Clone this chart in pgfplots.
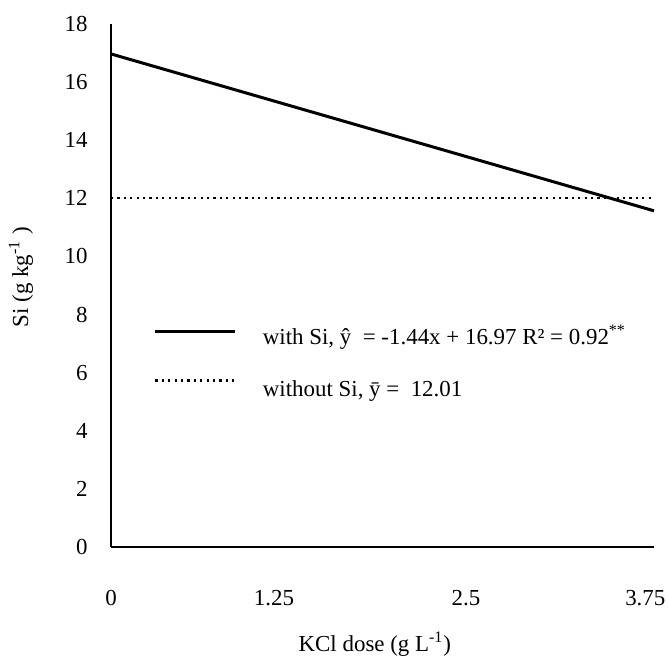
\documentclass[border=0pt]{standalone}
\usepackage{fontspec}
\setmainfont{Liberation Serif}
\usepackage{pgfplots}
\pgfplotsset{compat=1.18}

\begin{document}
\begin{tikzpicture}
\useasboundingbox (0,0) rectangle (334bp,329bp);
\begin{axis}[
    at={(55.5bp,55.5bp)}, anchor=south west,
    scale only axis,
    width=271.5bp, height=261.5bp,
    xmin=0, xmax=3.75,
    ymin=0, ymax=18,
    enlargelimits=false,
    axis lines*=left,
    axis line style={line width=1bp},
    major tick length=0pt,
    tick style={draw=none},
    xtick={0,1.126,2.452,3.69},
    xticklabels={0,1.25,2.5,3.75},
    ytick={0,2,4,6,8,10,12,14,16,18},
    /pgf/number format/assume math mode=true,
    font=\fontsize{11.5}{13.8}\selectfont,
    ticklabel style={font=\fontsize{11.5}{13.8}\selectfont},
    xticklabel style={anchor=north, inner sep=0pt, yshift=-21.5bp},
    yticklabel style={anchor=east, inner sep=0pt, xshift=-11.5bp},
    xlabel={KCl dose (g L\textsuperscript{-1})},
    ylabel={Si (g kg\textsuperscript{-1} )},
    xlabel style={at={(axis description cs:0.486,-0.186)}, anchor=center},
    ylabel style={at={(axis description cs:-0.166,0.516)}, anchor=center, rotate=0},
    clip=false,
    legend style={at={(rel axis cs:0.079,0.418)}, anchor=north west,
        draw=none, fill=none, inner sep=0pt, outer sep=0pt,
        row sep=15bp,
        nodes={inner sep=0pt, text height=8bp, text depth=2.5bp, anchor=base west},
        font=\fontsize{11.5}{13.8}\selectfont},
    legend cell align=left,
]
\addplot[black, line width=1.5bp,
    legend image code/.code={
        \draw[black, line width=1.5bp] (0bp,6.5bp) -- (40bp,6.5bp);
        \path (53bp,0bp);
    }] coordinates {(0,16.97) (3.75,11.57)};
\addlegendentry{with Si, ŷ\ \ = -1.44x + 16.97 R² = 0.92\textsuperscript{**}}
\addplot[black, line width=1.1bp, dash pattern=on 1.1bp off 2.1bp,
    legend image code/.code={
        \draw[black, line width=1.1bp, dash pattern=on 1.1bp off 2.1bp] (0bp,8bp) -- (40bp,8bp);
        \path (53bp,0bp);
    }] coordinates {(0,12.01) (3.75,12.01)};
\addlegendentry{without Si, ȳ = \ 12.01}
\end{axis}
\end{tikzpicture}
\end{document}
